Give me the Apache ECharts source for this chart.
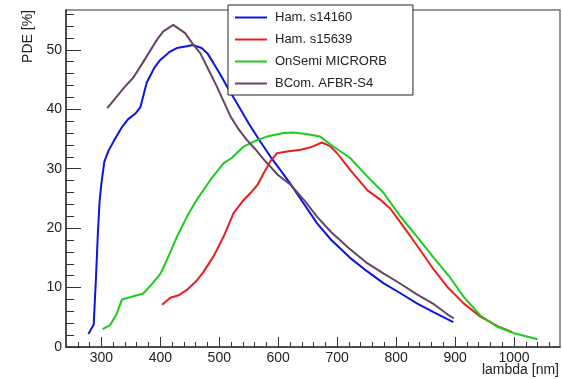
<!DOCTYPE html>
<html>
<head>
<meta charset="utf-8">
<script src="https://cdn.jsdelivr.net/npm/echarts@6/dist/echarts.min.js"></script>
<style>
  html, body { margin: 0; padding: 0; background: #fff; }
  #chart { width: 562px; height: 379px; }
</style>
</head>
<body>
<div id="chart"></div>
<script>
// PDE [%] vs wavelength [nm]
const hamS14160 = [
  [278, 2.2], [287, 3.8], [291, 12], [294, 19], [297, 24.5], [300, 27.5], [305, 31.2],
  [312, 33], [323, 35], [335, 37], [345, 38.3], [358, 39.3], [366, 40.3], [377, 44.5],
  [390, 47], [400, 48.3], [415, 49.6], [428, 50.3], [445, 50.6], [455, 50.8], [470, 50.3],
  [480, 49.4], [490, 47.8], [502, 45.8], [515, 43.5], [530, 41], [550, 37.6], [570, 34.5],
  [587, 32], [605, 29.6], [621, 27.4], [640, 24.6], [666, 20.8], [690, 18], [722, 15],
  [750, 12.8], [779, 10.7], [808, 9], [836, 7.3], [865, 5.8], [897, 4.2]
];
const hamS15639 = [
  [403, 7.1], [417, 8.3], [431, 8.7], [445, 9.6], [462, 11.2], [473, 12.6], [490, 15.2],
  [507, 18.5], [524, 22.5], [541, 24.7], [553, 25.9], [565, 27.3], [575, 29.2], [587, 31.3],
  [598, 32.6], [615, 32.9], [638, 33.2], [655, 33.6], [674, 34.4], [688, 33.8], [700, 32.6],
  [722, 29.8], [751, 26.4], [773, 24.8], [790, 23.3], [807, 21], [836, 17], [864, 13],
  [887, 10.1], [915, 7.3], [943, 5.1], [972, 3.5], [997, 2.5]
];
const onsemiMicrorb = [
  [302, 3.0], [315, 3.7], [326, 5.6], [335, 8.0], [350, 8.4], [371, 9.0], [385, 10.5],
  [400, 12.3], [411, 14.6], [428, 18.5], [445, 21.9], [462, 24.8], [485, 28.1], [500, 30],
  [507, 30.9], [521, 31.8], [541, 33.7], [564, 34.8], [581, 35.4], [609, 36], [626, 36.1],
  [650, 35.8], [671, 35.4], [694, 33.7], [722, 31.8], [751, 28.7], [779, 25.9], [807, 22],
  [836, 18.5], [864, 15], [890, 11.9], [915, 8.4], [943, 5.3], [972, 3.4], [1000, 2.3],
  [1040, 1.3]
];
const bcomAfbrS4 = [
  [310, 40.2], [325, 42], [340, 43.8], [354, 45.3], [370, 47.8], [385, 50.2], [395, 51.8],
  [405, 53.1], [422, 54.2], [442, 52.8], [455, 51], [468, 49.4], [482, 46.6], [496, 43.8],
  [508, 41.2], [519, 38.8], [533, 36.6], [547, 34.8], [560, 33.4], [575, 31.6], [600, 28.9],
  [621, 27.3], [645, 24.6], [666, 21.9], [690, 19.3], [720, 16.6], [751, 14.1], [775, 12.6],
  [808, 10.6], [836, 8.8], [864, 7.2], [887, 5.5], [898, 4.8]
];

const seriesNames = ["Ham. s14160", "Ham. s15639", "OnSemi MICRORB", "BCom. AFBR-S4"];
const seriesColors = ["#0a14e6", "#ee1c1c", "#1ccc1c", "#664466"];

const xMajor = [300, 400, 500, 600, 700, 800, 900, 1000];
const yMajor = [0, 10, 20, 30, 40, 50];
const xMinor = [];
for (let v = 260; v <= 1070; v += 20) xMinor.push(v);
const yMinor = [];
for (let v = 0; v <= 56; v += 2) yMinor.push(v);

const FONT = '"Liberation Sans", Arial, Helvetica, sans-serif';
const X_MIN = 240, X_MAX = 1078, Y_MIN = 0, Y_MAX = 56.7;

const chart = echarts.init(document.getElementById("chart"));

const xAxisBase = {
  type: "value", min: X_MIN, max: X_MAX, position: "bottom",
  splitLine: { show: false }
};
const yAxisBase = {
  type: "value", min: Y_MIN, max: Y_MAX, position: "left",
  splitLine: { show: false }
};
const plain = (v) => String(v);

chart.setOption({
  animation: false,
  backgroundColor: "#fff",
  textStyle: { fontFamily: FONT },
  grid: {
    left: 66, right: 2, top: 10, bottom: 32,
    show: true, borderColor: "#777", borderWidth: 1.5, backgroundColor: "transparent"
  },
  legend: {
    data: seriesNames,
    orient: "vertical",
    left: 228, top: 5,
    padding: [6, 26, 5, 7],
    icon: "rect",
    itemWidth: 32, itemHeight: 2, itemGap: 9,
    backgroundColor: "#fff",
    borderColor: "#222", borderWidth: 1,
    textStyle: { fontSize: 13, color: "#222", fontFamily: FONT, padding: [0, 0, 0, 3] }
  },
  xAxis: [
    Object.assign({}, xAxisBase, {
      axisLine: { show: true, lineStyle: { color: "#333", width: 1.5 } },
      axisTick: { show: true, inside: true, length: 10, customValues: xMajor, lineStyle: { color: "#333" } },
      axisLabel: { show: true, customValues: xMajor, formatter: plain, margin: 4, fontSize: 14, color: "#222", fontFamily: FONT }
    }),
    Object.assign({}, xAxisBase, {
      axisLine: { show: false },
      axisTick: { show: true, inside: true, length: 5, customValues: xMinor, lineStyle: { color: "#333" } },
      axisLabel: { show: false }
    })
  ],
  yAxis: [
    Object.assign({}, yAxisBase, {
      axisLine: { show: true, lineStyle: { color: "#333", width: 1.5 } },
      axisTick: { show: true, inside: true, length: 15, customValues: yMajor, lineStyle: { color: "#333" } },
      axisLabel: { show: true, customValues: yMajor, formatter: plain, margin: 4, fontSize: 14, color: "#222", fontFamily: FONT }
    }),
    Object.assign({}, yAxisBase, {
      axisLine: { show: false },
      axisTick: { show: true, inside: true, length: 8, customValues: yMinor, lineStyle: { color: "#333" } },
      axisLabel: { show: false }
    })
  ],
  graphic: [
    {
      type: "text", x: 28, y: 10, rotation: Math.PI / 2,
      style: { text: "PDE [%]", font: "14px " + FONT, fill: "#222", align: "right", verticalAlign: "middle" }
    },
    {
      type: "text", x: 559, y: 370,
      style: { text: "lambda [nm]", font: "14px " + FONT, fill: "#222", align: "right", verticalAlign: "middle" }
    }
  ],
  series: [hamS14160, hamS15639, onsemiMicrorb, bcomAfbrS4].map((data, i) => ({
    name: seriesNames[i],
    type: "line",
    xAxisIndex: 0,
    yAxisIndex: 0,
    data: data,
    symbol: "none",
    color: seriesColors[i],
    lineStyle: { width: 2, color: seriesColors[i] }
  }))
});
</script>
</body>
</html>
